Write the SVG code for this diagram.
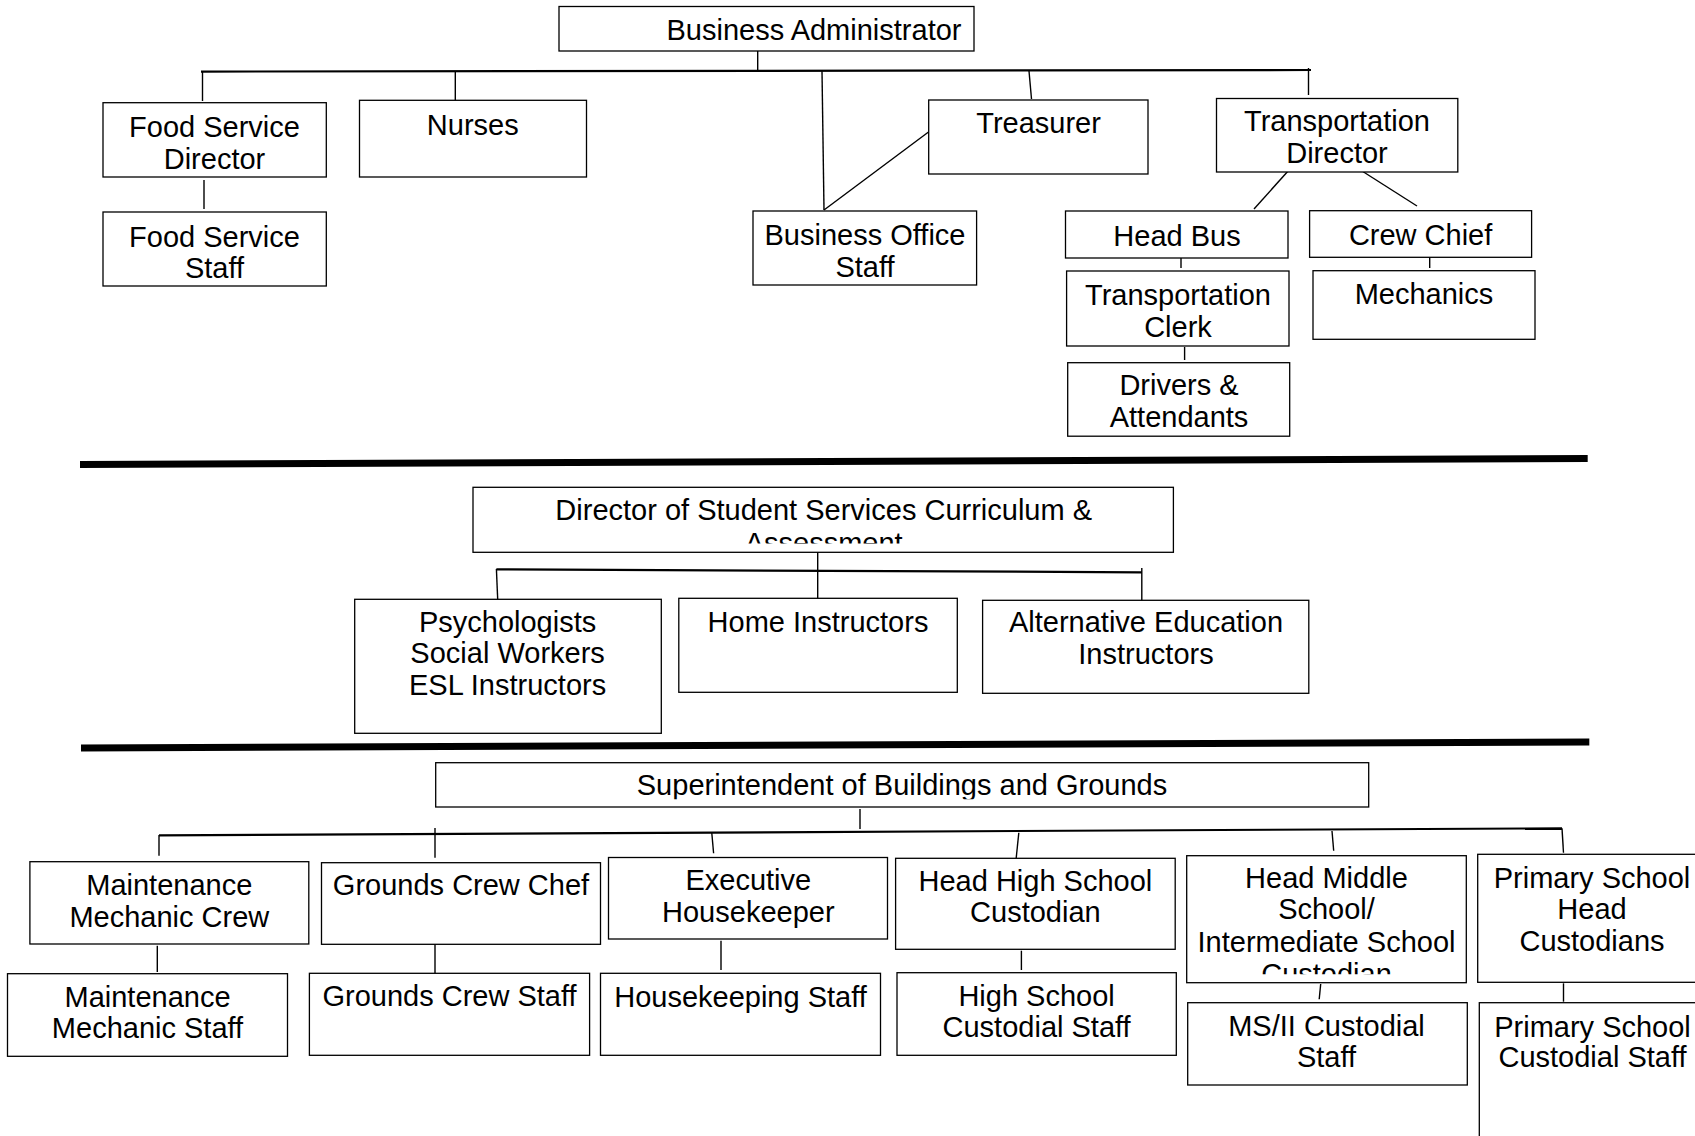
<svg xmlns="http://www.w3.org/2000/svg" width="1695" height="1136" viewBox="0 0 1695 1136">
<style>
.box{fill:#fff;stroke:#000;stroke-width:1.3}
.t{font-family:"Liberation Sans",Arial,sans-serif;font-size:29px;fill:#000;text-anchor:middle}
.c{stroke:#000;stroke-width:1.4;fill:none}
.bus{stroke:#000;stroke-width:2.2;fill:none}
.sep{stroke:#000;stroke-width:7;fill:none}
</style>
<defs>
<clipPath id="clipDir"><rect x="473" y="487" width="701" height="56.5"/></clipPath>
<clipPath id="clipSup"><rect x="435" y="762" width="934" height="37.3"/></clipPath>
<clipPath id="clipHMS"><rect x="1186" y="855" width="281" height="119.3"/></clipPath>
</defs>
<rect width="1695" height="1136" fill="#fff"/>

<g id="connectors">
<line class="c" x1="757.7" y1="51" x2="757.7" y2="71"/>
<line class="bus" x1="201" y1="71.6" x2="1311" y2="70"/>
<line class="c" x1="202.5" y1="71" x2="202.5" y2="101"/>
<line class="c" x1="455.3" y1="71" x2="455.3" y2="102.3"/>
<line class="c" x1="822" y1="71" x2="824" y2="210"/>
<line class="c" x1="824" y1="210" x2="928.5" y2="132"/>
<line class="c" x1="1029" y1="71" x2="1031.5" y2="99"/>
<line class="c" x1="1308.5" y1="68" x2="1308.5" y2="95"/>
<line class="c" x1="204" y1="180" x2="204" y2="209"/>
<line class="c" x1="1289" y1="170" x2="1254" y2="209"/>
<line class="c" x1="1362" y1="171" x2="1417" y2="206"/>
<line class="c" x1="1181" y1="256" x2="1181" y2="268"/>
<line class="c" x1="1184.6" y1="347" x2="1184.6" y2="360"/>
<line class="c" x1="1429.7" y1="257" x2="1429.7" y2="268"/>

<line class="sep" x1="80" y1="464.5" x2="1587.7" y2="458.5"/>
<line class="sep" x1="81" y1="748" x2="1589.3" y2="742"/>

<line class="c" x1="817.7" y1="552" x2="817.7" y2="600"/>
<line class="bus" x1="496.4" y1="569.3" x2="1141.8" y2="572.3"/>
<line class="c" x1="496.4" y1="569" x2="497.8" y2="601.7"/>
<line class="c" x1="1141.8" y1="568" x2="1141.8" y2="601.7"/>

<line class="c" x1="860" y1="809" x2="860" y2="829"/>
<line class="bus" x1="159" y1="835.3" x2="1562" y2="828.3"/>
<line class="c" x1="159" y1="835" x2="159" y2="855.7"/>
<line class="c" x1="435" y1="828" x2="435" y2="857.7"/>
<line class="c" x1="711.8" y1="833" x2="713.6" y2="853.3"/>
<line class="c" x1="1018.8" y1="832.7" x2="1016" y2="860"/>
<line class="c" x1="1332" y1="831" x2="1333.7" y2="850.7"/>
<line class="c" x1="1562" y1="828.3" x2="1563.5" y2="852.7"/>
<line class="c" x1="157.3" y1="945.7" x2="157.3" y2="972"/>
<line class="c" x1="435" y1="942.7" x2="435" y2="974.3"/>
<line class="c" x1="721" y1="940.7" x2="721" y2="970"/>
<line class="c" x1="1021.4" y1="950.7" x2="1021.4" y2="970"/>
<line class="c" x1="1320.7" y1="984" x2="1319.2" y2="999.3"/>
<line class="c" x1="1563.5" y1="983.3" x2="1563.5" y2="1001.7"/>
</g>

<g id="business-administrator"><rect class="box" x="559" y="6.5" width="415" height="44.5"/><text class="t" x="814" y="40">Business Administrator</text></g>
<g id="food-service-director"><rect class="box" x="103" y="102.7" width="223.3" height="74.3"/><text class="t" x="214.5" y="136.7">Food Service</text><text class="t" x="214.5" y="168.5">Director</text></g>
<g id="nurses"><rect class="box" x="359.5" y="100.3" width="227" height="76.7"/><text class="t" x="472.8" y="135">Nurses</text></g>
<g id="food-service-staff"><rect class="box" x="103" y="212" width="223.3" height="74"/><text class="t" x="214.5" y="246.7">Food Service</text><text class="t" x="214.5" y="277.7">Staff</text></g>
<g id="business-office-staff"><rect class="box" x="753" y="211" width="223.6" height="74"/><text class="t" x="865" y="245">Business Office</text><text class="t" x="865" y="277">Staff</text></g>
<g id="treasurer"><rect class="box" x="928.7" y="100" width="219.3" height="74"/><text class="t" x="1038.6" y="133">Treasurer</text></g>
<g id="transportation-director"><rect class="box" x="1216.5" y="98.5" width="241.3" height="73.5"/><text class="t" x="1337" y="131">Transportation</text><text class="t" x="1337" y="162.7">Director</text></g>
<g id="head-bus"><rect class="box" x="1065.5" y="211" width="222.5" height="47"/><text class="t" x="1177" y="245.7">Head Bus</text></g>
<g id="transportation-clerk"><rect class="box" x="1066.6" y="271" width="222.4" height="75"/><text class="t" x="1178" y="304.7">Transportation</text><text class="t" x="1178" y="336.7">Clerk</text></g>
<g id="drivers-attendants"><rect class="box" x="1067.7" y="362.7" width="222" height="73.5"/><text class="t" x="1179" y="395">Drivers &amp;</text><text class="t" x="1179" y="426.7">Attendants</text></g>
<g id="crew-chief"><rect class="box" x="1309.6" y="210.7" width="222" height="46.6"/><text class="t" x="1420.6" y="245">Crew Chief</text></g>
<g id="mechanics"><rect class="box" x="1313" y="270.7" width="222" height="68.6"/><text class="t" x="1424" y="304">Mechanics</text></g>

<g id="director-student-services"><rect class="box" x="473" y="487.3" width="700.4" height="65"/><g clip-path="url(#clipDir)"><text class="t" x="823.7" y="520">Director of Student Services Curriculum &amp;</text><text class="t" x="823.7" y="553.4">Assessment</text></g></g>
<g id="psychologists"><rect class="box" x="354.7" y="599.3" width="306.6" height="134"/><text class="t" x="507.6" y="631.7">Psychologists</text><text class="t" x="507.6" y="663.3">Social Workers</text><text class="t" x="507.6" y="695">ESL Instructors</text></g>
<g id="home-instructors"><rect class="box" x="678.8" y="598.3" width="278.5" height="94"/><text class="t" x="818" y="631.7">Home Instructors</text></g>
<g id="alternative-education"><rect class="box" x="982.6" y="600.3" width="326.2" height="93"/><text class="t" x="1146" y="631.7">Alternative Education</text><text class="t" x="1146" y="664">Instructors</text></g>

<g id="superintendent"><rect class="box" x="435.7" y="762.7" width="933" height="44.3"/><text class="t" x="902" y="795" clip-path="url(#clipSup)">Superintendent of Buildings and Grounds</text></g>
<g id="maintenance-mechanic-crew"><rect class="box" x="29.9" y="861.7" width="278.9" height="82.3"/><text class="t" x="169.3" y="895">Maintenance</text><text class="t" x="169.3" y="926.7">Mechanic Crew</text></g>
<g id="grounds-crew-chef"><rect class="box" x="321.5" y="862.7" width="279" height="81.6"/><text class="t" x="461" y="895">Grounds Crew Chef</text></g>
<g id="executive-housekeeper"><rect class="box" x="608.5" y="857.5" width="279" height="81.5"/><text class="t" x="748.3" y="890">Executive</text><text class="t" x="748.3" y="922.3">Housekeeper</text></g>
<g id="head-high-school-custodian"><rect class="box" x="895.6" y="858.3" width="279.6" height="91"/><text class="t" x="1035.4" y="890.7">Head High School</text><text class="t" x="1035.4" y="922.3">Custodian</text></g>
<g id="head-middle-school-custodian"><rect class="box" x="1186.7" y="855.7" width="279.6" height="127"/><g clip-path="url(#clipHMS)"><text class="t" x="1326.5" y="888.3">Head Middle</text><text class="t" x="1326.5" y="919.3">School/</text><text class="t" x="1326.5" y="951.7">Intermediate School</text><text class="t" x="1326.5" y="983.7">Custodian</text></g></g>
<g id="primary-school-head-custodians"><rect class="box" x="1477.7" y="854.3" width="240" height="128"/><text class="t" x="1592" y="887.7">Primary School</text><text class="t" x="1592" y="919.3">Head</text><text class="t" x="1592" y="951">Custodians</text></g>
<g id="maintenance-mechanic-staff"><rect class="box" x="7.5" y="973.7" width="280" height="82.6"/><text class="t" x="147.5" y="1006.7">Maintenance</text><text class="t" x="147.5" y="1038.3">Mechanic Staff</text></g>
<g id="grounds-crew-staff"><rect class="box" x="309.4" y="973.3" width="280.2" height="82"/><text class="t" x="449.5" y="1006">Grounds Crew Staff</text></g>
<g id="housekeeping-staff"><rect class="box" x="600.5" y="973.3" width="280" height="82"/><text class="t" x="740.5" y="1006.7">Housekeeping Staff</text></g>
<g id="high-school-custodial-staff"><rect class="box" x="897" y="972.7" width="279.3" height="82.6"/><text class="t" x="1036.6" y="1006">High School</text><text class="t" x="1036.6" y="1037.3">Custodial Staff</text></g>
<g id="ms-ii-custodial-staff"><rect class="box" x="1187.7" y="1002.7" width="279.6" height="82.3"/><text class="t" x="1326.5" y="1036">MS/II Custodial</text><text class="t" x="1326.5" y="1066.7">Staff</text></g>
<g id="primary-school-custodial-staff"><rect class="box" x="1479.3" y="1002.7" width="240" height="160"/><text class="t" x="1592.5" y="1036.7">Primary School</text><text class="t" x="1592.5" y="1067.3">Custodial Staff</text></g>
</svg>
